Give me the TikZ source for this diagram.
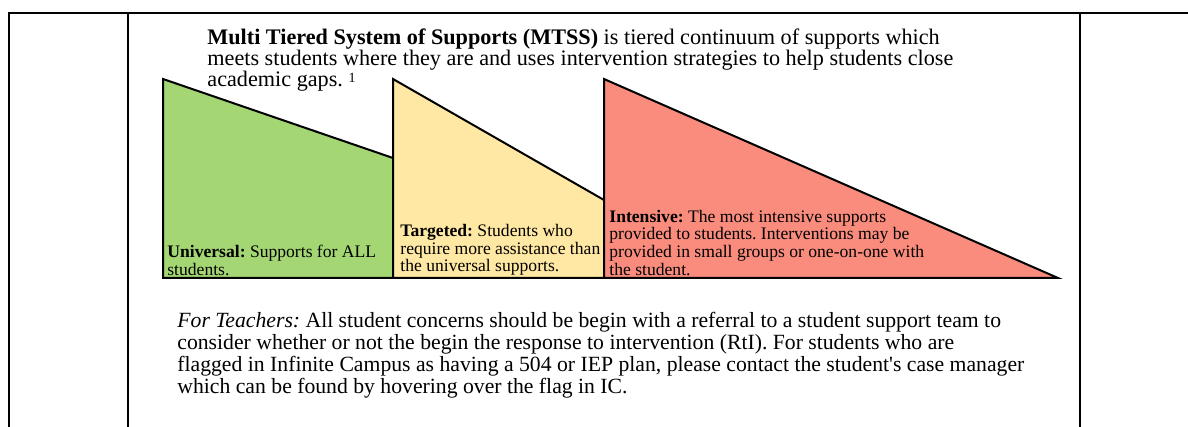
\documentclass[tikz,border=0pt]{standalone}
\usepackage{fontspec}
\setmainfont{Liberation Serif}[Ligatures=TeXOff]
\usepackage{xcolor}
\usetikzlibrary{positioning}
\definecolor{mgreen}{HTML}{A4D673}
\definecolor{myellow}{HTML}{FFE8A3}
\definecolor{mred}{HTML}{FA8C7E}
\frenchspacing

\begin{document}
\begin{tikzpicture}[x=0.5pt,y=-0.5pt,
    rule/.style={draw=black,line width=1pt},
    tier/.style={draw=black,line width=1pt},
    txt/.style={anchor=north west,inner sep=0pt,align=left},
    tlbl/.style={anchor=south west,inner sep=0pt,align=left,
                 font=\fontsize{8.8}{8.85}\selectfont}
  ]
    \useasboundingbox (0,0) rectangle (1188,427);

    % Table frame
    \draw[rule] (9,427) -- (9,13) -- (1188,13);
    \draw[rule] (128,13) -- (128,427);
    \draw[rule] (1080,13) -- (1080,427);

    % Tiers
    \draw[tier,fill=mgreen]  (163,278) -- (163,79) -- (393,158) -- (393,278) -- cycle;
    \draw[tier,fill=myellow] (393,278) -- (393,79) -- (604,200) -- (604,278) -- cycle;
    \draw[tier,fill=mred]    (604,278) -- (604,79) -- (1058,278) -- cycle;

    \node[txt,font=\fontsize{11.1}{10.5}\selectfont] (intro) at (207,28)
      {\textbf{Multi Tiered System of Supports (MTSS)} is tiered continuum of supports which\\
       meets students where they are and uses intervention strategies to help students close\\
       academic gaps. {\scriptsize\raisebox{0.6ex}{1}}};

    \node[tlbl] (univ) at (167,276)
      {\textbf{Universal:} Supports for ALL\\students.};
    \node[tlbl] (targ) at (400,276)
      {\textbf{Targeted:} Students who\\require more assistance than\\the universal supports.};
    \node[tlbl] (intens) at (609,276)
      {\textbf{Intensive:} The most intensive supports\\provided to students. Interventions may be\\
       provided in small groups or one-on-one with\\the student.};

    % Note for teachers
    \node[txt,font=\fontsize{10.85}{9.5}\selectfont] (teach) at (177,312)
      {\textit{For Teachers:} All student concerns should be begin with a referral to a student support team to\\
       consider whether or not the begin the response to intervention (RtI). For students who are\\
       flagged in Infinite Campus as having a 504 or IEP plan, please contact the student's case manager\\
       which can be found by hovering over the flag in IC.};

  \end{tikzpicture}
\end{document}
